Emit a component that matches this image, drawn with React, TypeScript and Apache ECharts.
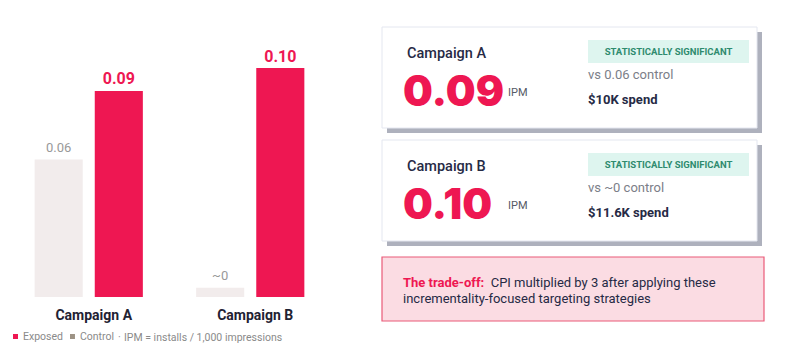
import React, { useEffect, useRef } from "react";
import * as echarts from "echarts";

const categories = ["Campaign A", "Campaign B"];
const exposed = [0.09, 0.1];
const control = [0.06, 0.004];
const controlLabels = ["0.06", "~0"];
const spends = ["$10K", "$11.6K"];
const badgeText = "STATISTICALLY SIGNIFICANT";
const noteText = "IPM = installs / 1,000 impressions";
const tradeLabel = "The trade-off:";
const tradeLines = ["CPI multiplied by 3 after applying these", "incrementality-focused targeting strategies"];

const RED = "#ee1752";
const CTRL = "#f2ecec";
const NAVY = "#262a45";
const FONT = "Roboto, 'Noto Sans', sans-serif";

function card(i: number) {
  const top = 27 + i * 113;
  const left = 382;
  const w = 375;
  const h = 101;
  return [
    { type: "rect", shape: { x: left + 5, y: top + 5, width: w, height: h }, style: { fill: "#aeb1bd" } },
    { type: "rect", shape: { x: left, y: top, width: w, height: h }, style: { fill: "#ffffff", stroke: "#e4e7f0", lineWidth: 1 } },
    { type: "text", x: 407, y: top + 26, style: { text: categories[i], fill: NAVY, fontSize: 14.5, fontWeight: 500, fontFamily: FONT, verticalAlign: "middle" } },
    { type: "text", x: 403, y: top + 63, style: { text: exposed[i].toFixed(2), fill: RED, fontSize: 42, fontWeight: 900, fontFamily: "Inter, Roboto, sans-serif", verticalAlign: "middle" } },
    { type: "text", x: 508, y: top + 65, style: { text: "IPM", fill: "#555a66", fontSize: 11, fontFamily: FONT, verticalAlign: "middle" } },
    { type: "rect", shape: { x: 588, y: top + 13, width: 161, height: 23 }, style: { fill: "#def5ef" } },
    { type: "text", x: 668.5, y: top + 24.5, style: { text: badgeText, fill: "#2e8b6e", fontSize: 9.5, fontWeight: "bold", fontFamily: FONT, align: "center", verticalAlign: "middle" } },
    { type: "text", x: 588, y: top + 47, style: { text: "vs " + controlLabels[i] + " control", fill: "#7b7e88", fontSize: 13, fontFamily: FONT, verticalAlign: "middle" } },
    { type: "text", x: 588, y: top + 72, style: { text: spends[i] + " spend", fill: NAVY, fontSize: 13, fontWeight: "bold", fontFamily: FONT, verticalAlign: "middle" } },
  ];
}

export default function App() {
  const ref = useRef<HTMLDivElement>(null);
  useEffect(() => {
    document.body.style.margin = "0";
    const chart = echarts.init(ref.current!, undefined, { renderer: "svg" });
    chart.setOption({
      animation: false,
      backgroundColor: "#ffffff",
      textStyle: { fontFamily: FONT },
      grid: { left: 8, right: 469, top: 68, bottom: 67 },
      legend: {
        left: 13,
        top: 331,
        padding: 0,
        itemWidth: 5,
        itemHeight: 5,
        itemGap: 7,
        icon: "rect",
        textStyle: { color: "#8a8a8a", fontSize: 10.5, fontFamily: FONT },
        data: [
          { name: "Exposed", itemStyle: { color: RED } },
          { name: "Control", itemStyle: { color: "#9d9385" } },
        ],
      },
      xAxis: {
        type: "category",
        data: categories,
        axisLine: { show: false },
        axisTick: { show: false },
        axisLabel: { color: "#1f2233", fontSize: 14, fontWeight: "bold", margin: 11, fontFamily: FONT, padding: [0, 0, 0, 10] },
      },
      yAxis: { type: "value", min: 0, max: 0.1, show: false, splitLine: { show: false } },
      series: [
        {
          name: "Control",
          type: "bar",
          data: control,
          barGap: "25%",
          barCategoryGap: "33%",
          itemStyle: { color: CTRL },
          label: {
            show: true,
            position: "top",
            distance: 6,
            color: "#999999",
            fontSize: 13,
            fontFamily: FONT,
            formatter: (p: any) => controlLabels[p.dataIndex],
          },
        },
        {
          name: "Exposed",
          type: "bar",
          data: exposed,
          itemStyle: { color: RED },
          label: {
            show: true,
            position: "top",
            distance: 4,
            color: RED,
            fontSize: 16,
            fontWeight: "bold",
            fontFamily: FONT,
            formatter: (p: any) => Number(p.value).toFixed(2),
          },
        },
      ],
      graphic: [
        { type: "text", x: 118, y: 337, style: { text: "·", fill: "#8a8a8a", fontSize: 10.5, fontFamily: FONT, verticalAlign: "middle" } },
        { type: "text", x: 124, y: 337, style: { text: noteText, fill: "#8a8a8a", fontSize: 10.5, fontFamily: FONT, verticalAlign: "middle" } },
        ...card(0),
        ...card(1),
        { type: "rect", shape: { x: 382, y: 257, width: 382, height: 64 }, style: { fill: "#fbdce3", stroke: "#ea5a78", lineWidth: 1.2 } },
        {
          type: "text",
          x: 403,
          y: 290,
          style: {
            text: "{b|" + tradeLabel + "}{n|  " + tradeLines[0] + "}\n{n|" + tradeLines[1] + "}",
            verticalAlign: "middle",
            rich: {
              b: { fill: RED, fontSize: 13, fontWeight: "bold", fontFamily: FONT, lineHeight: 16 },
              n: { fill: NAVY, fontSize: 13, fontFamily: FONT, lineHeight: 16 },
            },
          },
        },
      ],
    });
    return () => chart.dispose();
  }, []);
  return <div ref={ref} style={{ position: "fixed", left: 0, top: 0, width: 800, height: 364 }} />;
}
